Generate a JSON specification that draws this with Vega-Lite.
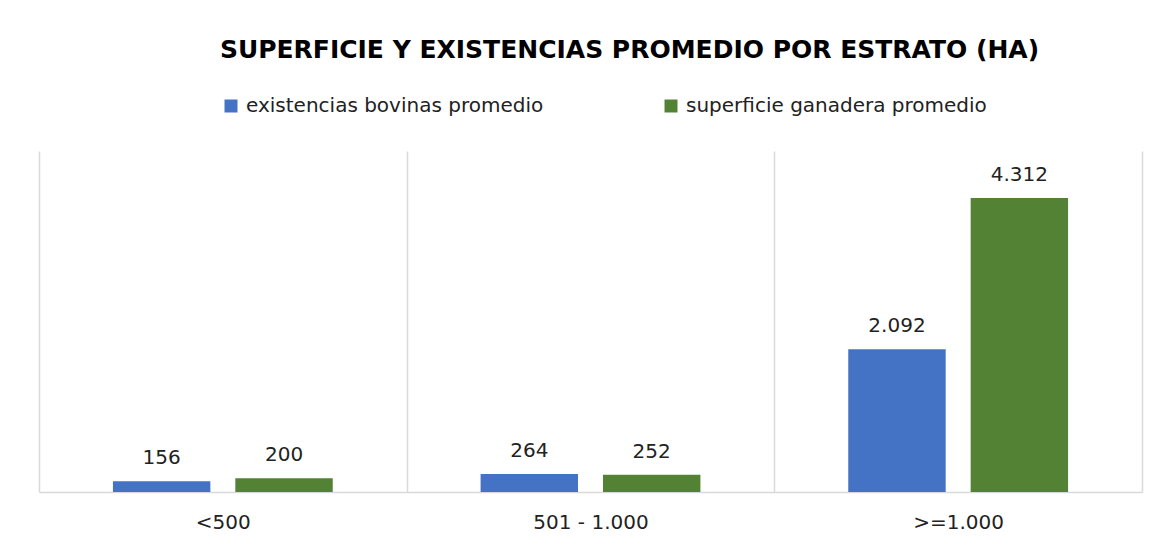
{
  "$schema": "https://vega.github.io/schema/vega-lite/v6.json",
  "width": 1103,
  "height": 341,
  "autosize": {"type": "none"},
  "padding": {"left": 39, "top": 151, "right": 18, "bottom": 53},
  "background": "white",
  "config": {
    "locale": {"number": {"decimal": ",", "thousands": ".", "grouping": [3], "currency": ["$", ""]}},
    "view": {"stroke": null},
    "font": "DejaVu Sans"
  },
  "title": {
    "text": "SUPERFICIE Y EXISTENCIAS PROMEDIO POR ESTRATO (HA)",
    "anchor": "middle",
    "frame": "group",
    "dx": 39,
    "font": "DejaVu Sans",
    "fontSize": 25,
    "fontWeight": "bold",
    "color": "#000000",
    "offset": 33
  },
  "data": {
    "values": [
      {"estrato": "<500", "serie": "existencias bovinas promedio", "valor": 156},
      {"estrato": "<500", "serie": "superficie ganadera promedio", "valor": 200},
      {"estrato": "501 - 1.000", "serie": "existencias bovinas promedio", "valor": 264},
      {"estrato": "501 - 1.000", "serie": "superficie ganadera promedio", "valor": 252},
      {"estrato": ">=1.000", "serie": "existencias bovinas promedio", "valor": 2092},
      {"estrato": ">=1.000", "serie": "superficie ganadera promedio", "valor": 4312}
    ]
  },
  "encoding": {
    "x": {
      "field": "estrato",
      "type": "nominal",
      "sort": ["<500", "501 - 1.000", ">=1.000"],
      "scale": {"paddingInner": 0, "paddingOuter": 0},
      "axis": {
        "title": null,
        "labelAngle": 0,
        "labelFont": "DejaVu Sans",
        "labelFontSize": 20,
        "labelColor": "#222222",
        "labelPadding": 20,
        "ticks": false,
        "grid": true,
        "tickBand": "extent",
        "gridColor": "#d9d9d9",
        "gridWidth": 1.5,
        "domainColor": "#d9d9d9",
        "domainWidth": 1.5
      }
    },
    "xOffset": {
      "field": "serie",
      "type": "nominal",
      "scale": {"paddingInner": 0.204, "paddingOuter": 0.604}
    },
    "y": {
      "field": "valor",
      "type": "quantitative",
      "scale": {"domain": [0, 5000], "nice": false},
      "axis": null
    }
  },
  "layer": [
    {
      "mark": {"type": "bar"},
      "encoding": {
        "color": {
          "field": "serie",
          "type": "nominal",
          "scale": {
            "domain": ["existencias bovinas promedio", "superficie ganadera promedio"],
            "range": ["#4472c4", "#548235"]
          },
          "legend": {
            "title": null,
            "orient": "none",
            "direction": "horizontal",
            "legendX": 182,
            "legendY": -55,
            "padding": 0,
            "symbolType": "square",
            "symbolSize": 169,
            "symbolStrokeWidth": 0,
            "symbolOpacity": 1,
            "labelFont": "DejaVu Sans",
            "labelFontSize": 20,
            "labelColor": "#222222",
            "labelOffset": 5,
            "labelLimit": 400,
            "columnPadding": 117
          }
        }
      }
    },
    {
      "mark": {"type": "text", "baseline": "alphabetic", "dy": -17, "fontSize": 20, "font": "DejaVu Sans", "color": "#222222"},
      "encoding": {
        "text": {"field": "valor", "type": "quantitative", "format": ",d"}
      }
    }
  ]
}
